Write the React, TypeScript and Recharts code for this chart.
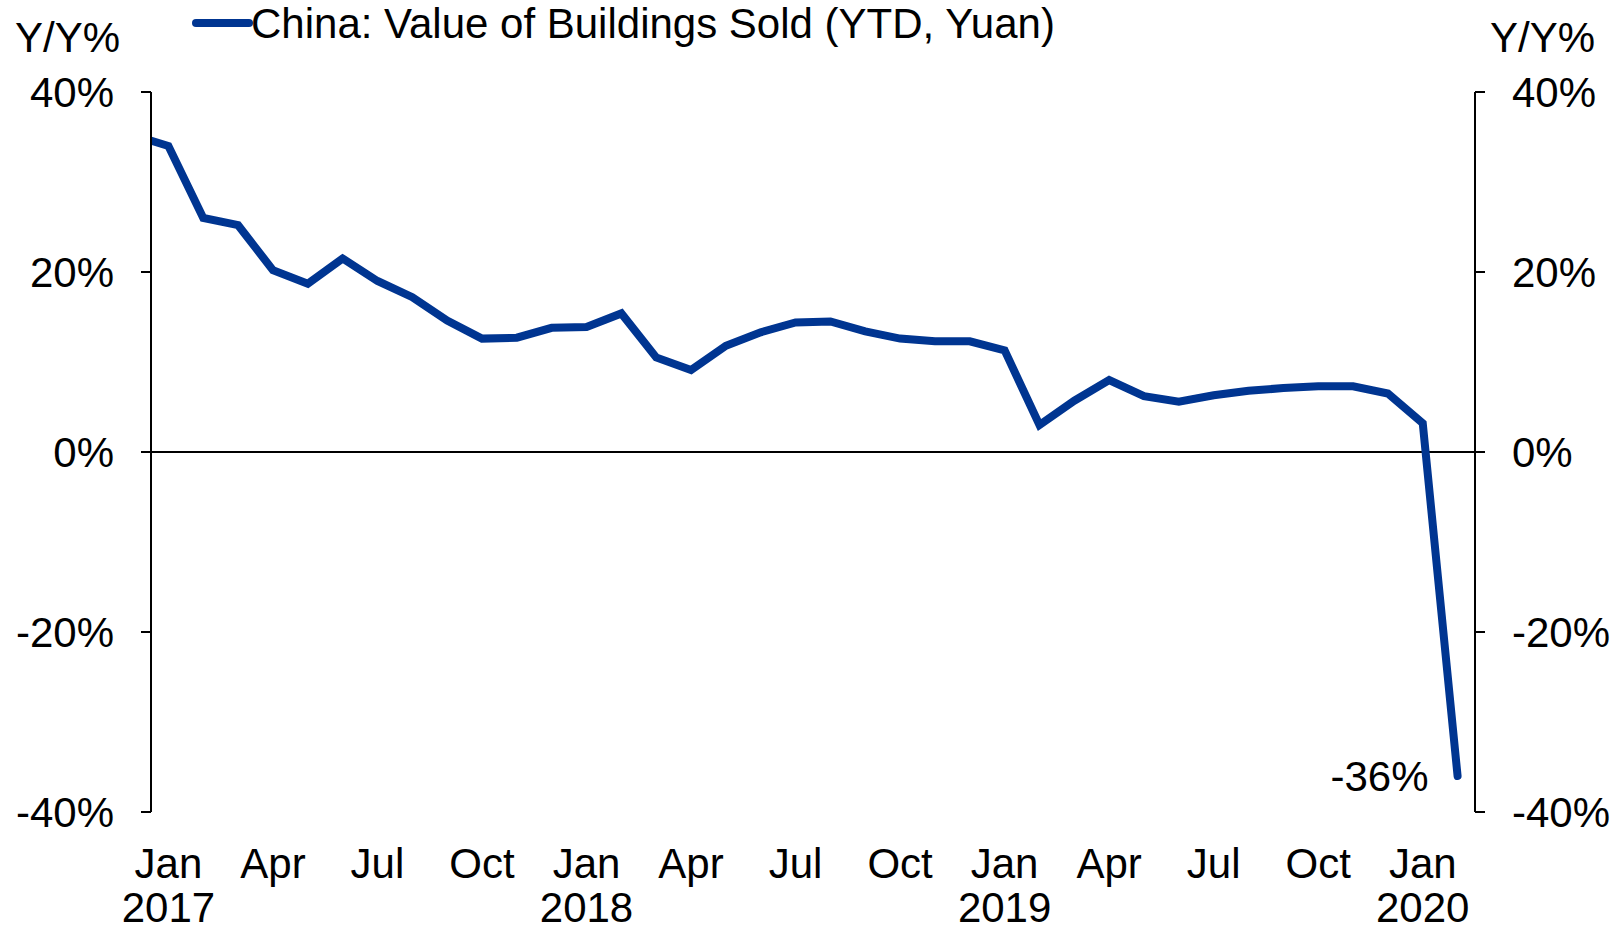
import { LineChart, Line, XAxis, YAxis, ReferenceLine } from "recharts"

const months = [
  "2016-12",
  "2017-01", "2017-02", "2017-03", "2017-04", "2017-05", "2017-06",
  "2017-07", "2017-08", "2017-09", "2017-10", "2017-11", "2017-12",
  "2018-01", "2018-02", "2018-03", "2018-04", "2018-05", "2018-06",
  "2018-07", "2018-08", "2018-09", "2018-10", "2018-11", "2018-12",
  "2019-01", "2019-02", "2019-03", "2019-04", "2019-05", "2019-06",
  "2019-07", "2019-08", "2019-09", "2019-10", "2019-11", "2019-12",
  "2020-01", "2020-02",
]

const values = [
  35.2,
  34.0, 26.0, 25.2, 20.2, 18.7, 21.5,
  19.0, 17.2, 14.6, 12.6, 12.7, 13.8,
  13.9, 15.4, 10.5, 9.1, 11.8, 13.3,
  14.4, 14.5, 13.4, 12.6, 12.3, 12.3,
  11.3, 3.0, 5.7, 8.0, 6.2, 5.6,
  6.3, 6.8, 7.1, 7.3, 7.3, 6.5,
  3.2, -36.0,
]

const xTicks = [0, 3, 6, 9, 12, 15, 18, 21, 24, 27, 30, 33, 36]
const monthNames = ["Jan", "Apr", "Jul", "Oct"]
const yearLabels = ["2017", "2018", "2019", "2020"]
const yTicks = [-40, -20, 0, 20, 40]

const seriesName = "China: Value of Buildings Sold (YTD, Yuan)"
const unitLabel = "Y/Y%"

const BLUE = "#003591"
const FONT = "'Liberation Sans', Arial, sans-serif"

// month index counted from Jan 2017
const data = months.map((m, i) => {
  const [y, mo] = m.split("-").map(Number)
  return { x: (y - 2017) * 12 + (mo - 1), v: values[i] }
})

function MonthTick({ x, y, payload }: any) {
  const idx = payload.value
  const name = monthNames[(idx / 3) % 4]
  const year = idx % 12 === 0 ? yearLabels[idx / 12] : null
  return (
    <g>
      <text x={x} y={y + 66} textAnchor="middle" fontSize={42} fontFamily={FONT} fill="#000">
        {name}
      </text>
      {year && (
        <text x={x} y={y + 110} textAnchor="middle" fontSize={42} fontFamily={FONT} fill="#000">
          {year}
        </text>
      )}
    </g>
  )
}

function EndLabel(props: any) {
  const { x, y, index, value } = props
  if (index !== data.length - 1) return null
  return (
    <text x={x - 29} y={y} dy="0.355em" textAnchor="end" fontSize={42} fontFamily={FONT} fill="#000">
      {Math.round(value)}%
    </text>
  )
}

export default function App() {
  const yTickStyle = { fontSize: 42, fontFamily: FONT, fill: "#000" }
  const textStyle = { position: "absolute" as const, fontSize: 42, fontFamily: FONT, lineHeight: "56px", whiteSpace: "nowrap" as const }
  return (
    <div style={{ position: "absolute", left: 0, top: 0, width: 1617, height: 931, background: "#fff" }}>
      <div style={{ ...textStyle, left: 15, top: 10 }}>{unitLabel}</div>
      <div style={{ ...textStyle, left: 1490, top: 10 }}>{unitLabel}</div>

      {/* legend */}
      <svg style={{ position: "absolute", left: 192, top: 0 }} width={900} height={50}>
        <line x1={4} y1={23} x2={57} y2={23} stroke={BLUE} strokeWidth={8} strokeLinecap="round" />
        <text x={59} y={38} fontSize={42} fontFamily={FONT} fill="#000">
          {seriesName}
        </text>
      </svg>

      <LineChart width={1617} height={931} data={data} margin={{ top: 92, right: 0, bottom: 0, left: 0 }}>
        <XAxis
          dataKey="x"
          type="number"
          domain={[-0.5, 37.5]}
          ticks={xTicks}
          allowDataOverflow
          axisLine={false}
          tickLine={false}
          tickSize={0}
          tickMargin={0}
          height={119}
          interval={0}
          tick={<MonthTick />}
        />
        <YAxis
          yAxisId="l"
          domain={[-40, 40]}
          ticks={yTicks}
          width={151}
          tickSize={10}
          tickMargin={27}
          tickFormatter={(v: number) => `${v}%`}
          tick={yTickStyle}
          axisLine={{ stroke: "#000", strokeWidth: 2 }}
          tickLine={{ stroke: "#000", strokeWidth: 2 }}
        />
        <YAxis
          yAxisId="r"
          orientation="right"
          domain={[-40, 40]}
          ticks={yTicks}
          width={142}
          tickSize={10}
          tickMargin={27}
          tickFormatter={(v: number) => `${v}%`}
          tick={yTickStyle}
          axisLine={{ stroke: "#000", strokeWidth: 2 }}
          tickLine={{ stroke: "#000", strokeWidth: 2 }}
        />
        <ReferenceLine yAxisId="l" y={0} stroke="#000" strokeWidth={2} />
        {/* hidden copy so the right axis gets its ticks */}
        <Line yAxisId="r" dataKey="v" stroke="none" dot={false} activeDot={false} legendType="none" isAnimationActive={false} />
        <Line
          yAxisId="l"
          dataKey="v"
          name={seriesName}
          stroke={BLUE}
          strokeWidth={8}
          strokeLinecap="round"
          dot={false}
          label={<EndLabel />}
          isAnimationActive={false}
        />
      </LineChart>
    </div>
  )
}
